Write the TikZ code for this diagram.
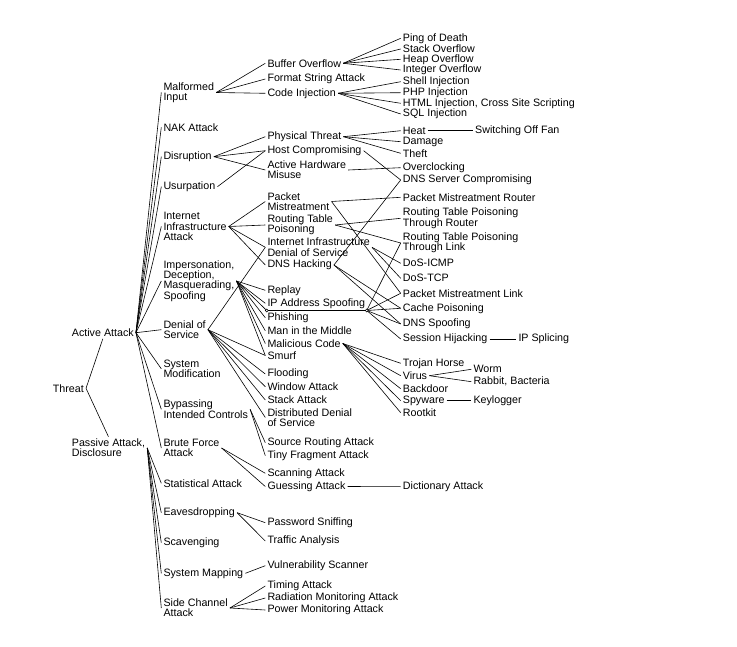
\documentclass[tikz,border=0pt]{standalone}
\usepackage{fontspec}
\setmainfont{Liberation Sans}

\tikzset{
  lbl/.style={anchor=west, inner sep=2pt, align=left, font=\fontsize{10.7}{10.3}\selectfont},
  edg/.style={line width=0.6pt}
}

\begin{document}
\begin{tikzpicture}[x=1pt, y=-1pt]
  \useasboundingbox (0,0) rectangle (737,647);

  % root and the two main branches
  \node[lbl] (thr) at (50.7,388.3) {Threat};
  \node[lbl] (act) at (69.7,332.7) {Active Attack};
  \node[lbl] (pas) at (69.7,448) {Passive Attack,\\Disclosure};

  % second level
  \node[lbl] (mal) at (161.3,92.5) {Malformed\\Input};
  \node[lbl] (nak) at (161.3,127.3) {NAK Attack};
  \node[lbl] (dis) at (161.3,156.7) {Disruption};
  \node[lbl] (usu) at (161.3,186.7) {Usurpation};
  \node[lbl] (iia) at (161.3,226.5) {Internet\\Infrastructure\\Attack};
  \node[lbl] (imp) at (161.3,281) {Impersonation,\\Deception,\\Masquerading,\\Spoofing};
  \node[lbl] (dos) at (161.3,329.7) {Denial of\\Service};
  \node[lbl] (smo) at (161.3,368.8) {System\\Modification};
  \node[lbl] (byp) at (161.3,409.3) {Bypassing\\Intended Controls};
  \node[lbl] (bfa) at (161.3,448) {Brute Force\\Attack};
  \node[lbl] (sta) at (161.3,483.3) {Statistical Attack};
  \node[lbl] (eav) at (161.3,512.7) {Eavesdropping};
  \node[lbl] (sca) at (161.3,542.7) {Scavenging};
  \node[lbl] (sma) at (161.3,573.3) {System Mapping};
  \node[lbl] (sch) at (161.3,608) {Side Channel\\Attack};

  % third level
  \node[lbl] (bof) at (265.3,63.3) {Buffer Overflow};
  \node[lbl] (fsa) at (265.3,79) {Format String Attack};
  \node[lbl] (coi) at (265.3,93.3) {Code Injection};
  \node[lbl] (pht) at (265.3,136.7) {Physical Threat};
  \node[lbl] (hco) at (265.3,150.7) {Host Compromising};
  \node[lbl] (ahm) at (265.3,170) {Active Hardware\\Misuse};
  \node[lbl] (pmt) at (265.3,201.5) {Packet\\Mistreatment};
  \node[lbl] (rtp) at (265.3,225) {Routing Table\\Poisoning};
  \node[lbl] (iid) at (265.3,247.3) {Internet Infrastructure\\Denial of Service};
  \node[lbl] (dnh) at (265.3,265) {DNS Hacking};
  \node[lbl] (rep) at (265.3,290.3) {Replay};
  \node[lbl] (ips) at (265.3,303.3) {IP Address Spoofing};
  \node[lbl] (phi) at (265.3,317.7) {Phishing};
  \node[lbl] (mim) at (265.3,330.7) {Man in the Middle};
  \node[lbl] (mco) at (265.3,343.5) {Malicious Code};
  \node[lbl] (smu) at (265.3,355.5) {Smurf};
  \node[lbl] (flo) at (265.3,374) {Flooding};
  \node[lbl] (win) at (265.3,386.7) {Window Attack};
  \node[lbl] (sat) at (265.3,400) {Stack Attack};
  \node[lbl] (ddo) at (265.3,417.5) {Distributed Denial\\of Service};
  \node[lbl] (sra) at (265.3,442.7) {Source Routing Attack};
  \node[lbl] (tfa) at (265.3,455.7) {Tiny Fragment Attack};
  \node[lbl] (sna) at (265.3,473.3) {Scanning Attack};
  \node[lbl] (gue) at (265.3,486.5) {Guessing Attack};
  \node[lbl] (pwd) at (265.3,522.7) {Password Sniffing};
  \node[lbl] (tra) at (265.3,541) {Traffic Analysis};
  \node[lbl] (vsc) at (265.3,565.7) {Vulnerability Scanner};
  \node[lbl] (tim) at (265.3,586) {Timing Attack};
  \node[lbl] (rad) at (265.3,598) {Radiation Monitoring Attack};
  \node[lbl] (pow) at (265.3,610) {Power Monitoring Attack};

  % fourth level
  \node[lbl] (pod) at (400.7,38.3) {Ping of Death};
  \node[lbl] (sov) at (400.7,49) {Stack Overflow};
  \node[lbl] (hov) at (400.7,59.3) {Heap Overflow};
  \node[lbl] (iov) at (400.7,70) {Integer Overflow};
  \node[lbl] (she) at (400.7,81.7) {Shell Injection};
  \node[lbl] (php) at (400.7,92.7) {PHP Injection};
  \node[lbl] (htm) at (400.7,103.3) {HTML Injection, Cross Site Scripting};
  \node[lbl] (sql) at (400.7,114) {SQL Injection};
  \node[lbl] (hea) at (400.7,130.7) {Heat};
  \node[lbl] (dam) at (400.7,141.7) {Damage};
  \node[lbl] (the) at (400.7,153.3) {Theft};
  \node[lbl] (ovc) at (400.7,167.7) {Overclocking};
  \node[lbl] (dsc) at (400.7,180) {DNS Server Compromising};
  \node[lbl] (pmr) at (400.7,197.3) {Packet Mistreatment Router};
  \node[lbl] (rtr) at (400.7,218.3) {Routing Table Poisoning\\Through Router};
  \node[lbl] (rtl) at (400.7,243) {Routing Table Poisoning\\Through Link};
  \node[lbl] (icm) at (400.7,263.3) {DoS-ICMP};
  \node[lbl] (tcp) at (400.7,278.3) {DoS-TCP};
  \node[lbl] (pml) at (400.7,293.3) {Packet Mistreatment Link};
  \node[lbl] (cpo) at (400.7,308.3) {Cache Poisoning};
  \node[lbl] (dsp) at (400.7,324) {DNS Spoofing};
  \node[lbl] (shi) at (400.7,339) {Session Hijacking};
  \node[lbl] (tro) at (400.7,363.3) {Trojan Horse};
  \node[lbl] (vir) at (400.7,375.7) {Virus};
  \node[lbl] (bdo) at (400.7,388.7) {Backdoor};
  \node[lbl] (spy) at (400.7,400.7) {Spyware};
  \node[lbl] (roo) at (400.7,412.7) {Rootkit};
  \node[lbl] (dic) at (400.7,486.7) {Dictionary Attack};

  % fifth level
  \node[lbl] (fan) at (473,130.7) {Switching Off Fan};
  \node[lbl] (spl) at (516.3,339) {IP Splicing};
  \node[lbl] (wor) at (471.3,369.3) {Worm};
  \node[lbl] (rab) at (471.3,381.7) {Rabbit, Bacteria};
  \node[lbl] (key) at (471.3,400.7) {Keylogger};

  \coordinate (ipsL) at (266.7,310.5);
  \coordinate (ipsR) at (366.7,310.5);

  \draw[edg] (thr.east) -- (act.south);
  \draw[edg] (thr.east) -- (pas.north);

  \foreach \c in {mal,nak,dis,usu,iia,imp,dos,smo,byp,bfa}{
    \draw[edg] (act.east) -- (\c.west);
  }
  \foreach \c in {sta,eav,sca,sma,sch}{
    \draw[edg] (pas.east) -- (\c.west);
  }

  \foreach \c in {bof,fsa,coi}{ \draw[edg] (mal.east) -- (\c.west); }
  \foreach \c in {pod,sov,hov,iov}{ \draw[edg] (bof.east) -- (\c.west); }
  \foreach \c in {she,php,htm,sql}{ \draw[edg] (coi.east) -- (\c.west); }
  \foreach \c in {pht,hco,ahm}{ \draw[edg] (dis.east) -- (\c.west); }
  \draw[edg] (usu.east) -- (hco.west);
  \foreach \c in {hea,dam,the}{ \draw[edg] (pht.east) -- (\c.west); }
  \draw[edg] (hea.east) -- (fan.west);
  \draw[edg] (hco.east) -- (dsc.west);
  \draw[edg] (ahm.east) -- (ovc.west);

  \foreach \c in {pmt,rtp,iid,dnh}{ \draw[edg] (iia.east) -- (\c.west); }
  \foreach \c in {pmr,pml}{ \draw[edg] (pmt.east) -- (\c.west); }
  \foreach \c in {rtr,rtl}{ \draw[edg] (rtp.east) -- (\c.west); }
  \foreach \c in {icm,tcp}{ \draw[edg] (iid.east) -- (\c.west); }
  \foreach \c in {dsc,cpo,dsp}{ \draw[edg] (dnh.east) -- (\c.west); }

  \foreach \c in {rep,ips,phi,mim,mco,smu}{ \draw[edg] (imp.east) -- (\c.west); }
  \draw[edg] (imp.east) -- (ipsL);
  \draw[edg] (ipsL) -- (ipsR);
  \foreach \c in {rtl,pml,cpo,dsp,shi}{ \draw[edg] (ipsR) -- (\c.west); }
  \draw[edg] (shi.east) -- (spl.west);

  \foreach \c in {iid,smu,flo,win,sat,ddo}{ \draw[edg] (dos.east) -- (\c.west); }
  \foreach \c in {tro,vir,bdo,spy,roo}{ \draw[edg] (mco.east) -- (\c.west); }
  \foreach \c in {wor,rab}{ \draw[edg] (vir.east) -- (\c.west); }
  \draw[edg] (spy.east) -- (key.west);

  \foreach \c in {sra,tfa}{ \draw[edg] (byp.east) -- (\c.west); }
  \foreach \c in {sna,gue}{ \draw[edg] (bfa.east) -- (\c.west); }
  \draw[edg] (gue.east) -- (dic.west);
  \foreach \c in {pwd,tra}{ \draw[edg] (eav.east) -- (\c.west); }
  \draw[edg] (sma.east) -- (vsc.west);
  \foreach \c in {tim,rad,pow}{ \draw[edg] (sch.east) -- (\c.west); }

  \draw[edg, fill=white] (ipsL) circle [radius=1.5];
  \draw[edg, fill=white] (ipsR) circle [radius=1.5];
\end{tikzpicture}
\end{document}
